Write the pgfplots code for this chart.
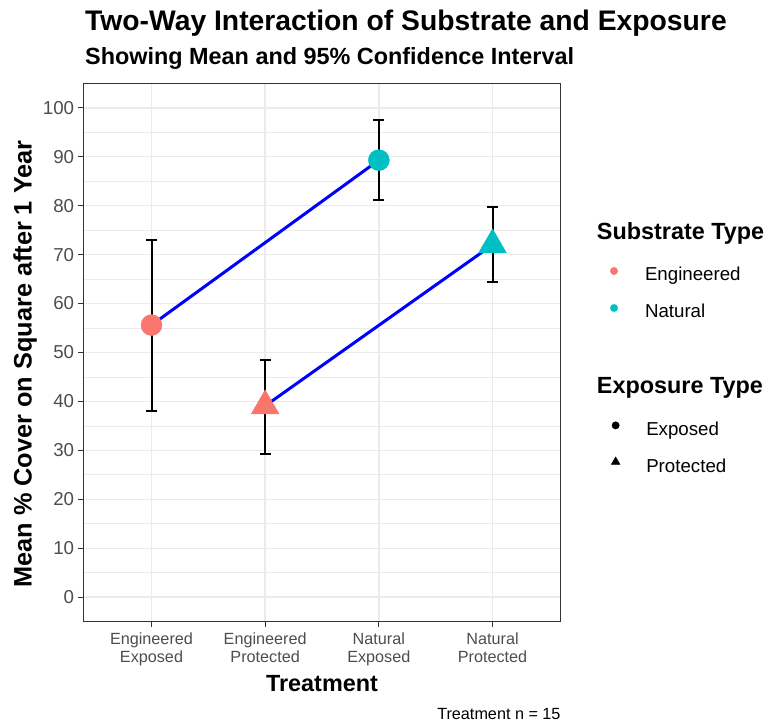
\documentclass[border=0pt]{standalone}
\usepackage{pgfplots}
\usepackage{pgfplotstable}
\pgfplotsset{compat=1.18}
\usepackage{fontspec}
\setmainfont{Liberation Sans}
\definecolor{eng}{HTML}{F8766D}
\definecolor{nat}{HTML}{00BFC4}
\definecolor{gridc}{HTML}{EBEBEB}
\definecolor{greyA}{HTML}{333333}
\definecolor{greyB}{HTML}{4D4D4D}

\pgfplotstableread{
x y plus minus
1 55.6 17.3 17.6
2 39.1 9.4 9.8
3 89.3 8.2 8.1
4 72.0 7.7 7.6
}\alltbl

\begin{document}
\begin{tikzpicture}[x=1pt,y=1pt]
\path[use as bounding box] (0,0) rectangle (767,726);
\begin{axis}[
  at={(83.3pt,104.3pt)}, anchor=south west,
  scale only axis, width=477.4pt, height=538.4pt,
  xmin=0.4, xmax=4.6, ymin=-5, ymax=105,
  xtick={1,2,3,4},
  xticklabels={{Engineered\\Exposed},{Engineered\\Protected},{Natural\\Exposed},{Natural\\Protected}},
  ytick={0,10,...,100},
  minor ytick={5,15,...,95},
  minor tick length=0pt,
  grid=both,
  major grid style={draw=gridc, line width=1.5pt},
  minor grid style={draw=gridc, line width=0.8pt},
  tick align=outside, tick pos=left,
  major tick length=5pt,
  tick style={draw=greyA, line width=1.2pt},
  axis line style={draw=greyA, line width=1.3pt},
  /pgf/number format/assume math mode=true,
  yticklabel style={font=\fontsize{18.7}{20}\selectfont, text=greyB, inner sep=0pt, anchor=east, xshift=-4pt},
  xticklabel style={font=\fontsize{16.2}{18.7}\selectfont, text=greyB, inner sep=0pt, anchor=north, align=center, yshift=-5.5pt},
]
% points
\addplot[only marks, mark=*, mark size=10.5pt, color=eng] coordinates {(1,55.6)};
\addplot[only marks, mark=triangle*, mark size=16pt, color=eng] coordinates {(2,39.1)};
\addplot[only marks, mark=*, mark size=10.5pt, color=nat] coordinates {(3,89.3)};
\addplot[only marks, mark=triangle*, mark size=16pt, color=nat] coordinates {(4,72.0)};
% error bars
\addplot[draw=none, mark=none, forget plot,
  error bars/.cd, y dir=both, y explicit, error mark=|,
  error bar style={draw=black, line width=2pt},
  error mark options={draw=black, line width=2pt, mark size=5.5pt}]
  table[x=x, y=y, y error plus=plus, y error minus=minus] {\alltbl};
% interaction lines
\addplot[blue, line width=3pt, mark=none] coordinates {(1,55.6) (3,89.3)};
\addplot[blue, line width=3pt, mark=none] coordinates {(2,39.1) (4,72.0)};
\end{axis}

% legend: substrate
\begin{axis}[hide axis, scale only axis, width=1pt, height=1pt,
  xmin=0, xmax=1, ymin=0, ymax=1,
  at={(610.3pt,459pt)}, anchor=south west,
  legend style={at={(0,0)}, anchor=north west, draw=none, fill=none,
    inner sep=0pt, outer sep=0pt, row sep=19pt, column sep=27.3pt,
    font=\fontsize{18.7}{22}\selectfont,
    nodes={inner sep=0pt, text height=14pt, text depth=4pt}},
  legend cell align=left,
  legend image code/.code={\draw[#1] plot coordinates {(0pt,5pt)};},
]
\addlegendimage{only marks, mark=*, mark size=3.7pt, color=eng}
\addlegendentry{Engineered}
\addlegendimage{only marks, mark=*, mark size=3.7pt, color=nat}
\addlegendentry{Natural}
\end{axis}

% legend: exposure
\begin{axis}[hide axis, scale only axis, width=1pt, height=1pt,
  xmin=0, xmax=1, ymin=0, ymax=1,
  at={(611.3pt,304.3pt)}, anchor=south west,
  legend style={at={(0,0)}, anchor=north west, draw=none, fill=none,
    inner sep=0pt, outer sep=0pt, row sep=17pt, column sep=26.3pt,
    font=\fontsize{18.7}{22}\selectfont,
    nodes={inner sep=0pt, text height=14pt, text depth=4pt}},
  legend cell align=left,
  legend image code/.code={\draw[#1] plot coordinates {(0pt,5.5pt)};},
]
\addlegendimage{only marks, mark=*, mark size=3.7pt, color=black}
\addlegendentry{Exposed}
\addlegendimage{only marks, mark=triangle*, mark size=5pt, color=black}
\addlegendentry{Protected}
\end{axis}

% texts
\node[anchor=base west, inner sep=0pt, font=\bfseries\fontsize{28.3}{30}\selectfont] at (85,695) {Two-Way Interaction of Substrate and Exposure};
\node[anchor=base west, inner sep=0pt, font=\bfseries\fontsize{23.4}{26}\selectfont] at (85,661) {Showing Mean and 95\% Confidence Interval};
\node[anchor=base, inner sep=0pt, font=\bfseries\fontsize{23.4}{26}\selectfont] at (322,34.3) {Treatment};
\node[anchor=base, rotate=90, inner sep=0pt, font=\bfseries\fontsize{25.3}{28}\selectfont] at (31.7,362) {Mean \% Cover on Square after 1 Year};
\node[anchor=base east, inner sep=0pt, font=\fontsize{16.2}{18}\selectfont] at (560.7,6.7) {Treatment n = 15};
\node[anchor=base west, inner sep=0pt, font=\bfseries\fontsize{23.4}{26}\selectfont] at (596.7,486) {Substrate Type};
\node[anchor=base west, inner sep=0pt, font=\bfseries\fontsize{23.4}{26}\selectfont] at (596.7,332.7) {Exposure Type};
\end{tikzpicture}
\end{document}
